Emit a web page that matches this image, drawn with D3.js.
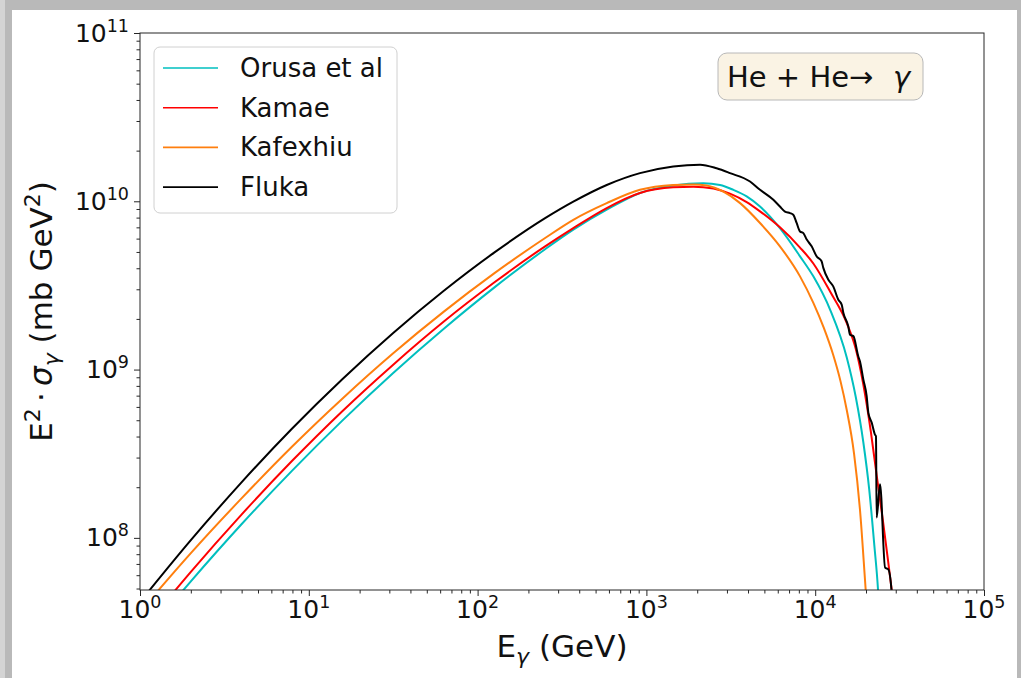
<!DOCTYPE html>
<html>
<head>
<meta charset="utf-8">
<script src="https://cdn.jsdelivr.net/npm/d3@7"></script>
<style>
  body { margin: 0; background: #fff; }
  svg { display: block; font-family: "DejaVu Sans", sans-serif; }
</style>
</head>
<body>
<div id="chart"></div>
<script>
// Series (E in GeV, E^2 * sigma in mb GeV^2)
const seriesNames = ["Orusa et al", "Kamae", "Kafexhiu", "Fluka"];
const seriesColors = ["#00bfbf", "#ff0000", "#ff7f0e", "#000000"];

const orusaE = [1.413, 1.995, 3.981, 7.943, 15.85, 31.62, 63.10, 125.9, 251.2, 369.0, 582.1, 916.2, 1442, 2173, 2729, 3273, 3926, 4710, 6180, 8128, 9750, 12300, 15380, 17380, 19280, 20890, 22390, 23550, 23990];
const orusaY = [3.67e7, 5.50e7, 1.20e8, 2.50e8, 4.99e8, 9.55e8, 1.75e9, 3.08e9, 5.19e9, 6.78e9, 8.91e9, 1.12e10, 1.24e10, 1.28e10, 1.25e10, 1.17e10, 1.07e10, 9.31e9, 6.92e9, 4.71e9, 3.58e9, 2.25e9, 1.18e9, 6.89e8, 3.70e8, 1.94e8, 9.08e7, 4.94e7, 3.55e7];

const kamaeE = [1.259, 1.995, 3.981, 7.943, 15.85, 31.62, 63.10, 125.9, 251.2, 369.0, 582.1, 916.2, 1442, 1897, 2495, 3126, 3926, 4710, 6180, 8128, 9750, 12300, 15380, 17380, 19280, 21380, 23120, 25120, 26920, 28380, 29170];
const kamaeY = [3.61e7, 6.26e7, 1.37e8, 2.86e8, 5.68e8, 1.07e9, 1.93e9, 3.30e9, 5.40e9, 6.93e9, 9.12e9, 1.12e10, 1.21e10, 1.22e10, 1.19e10, 1.11e10, 9.89e9, 8.71e9, 7.00e9, 5.31e9, 4.27e9, 2.89e9, 1.89e9, 1.33e9, 8.15e8, 4.25e8, 2.36e8, 1.29e8, 7.52e7, 4.92e7, 3.98e7];

const kafexhiuE = [1.0, 1.995, 3.981, 7.943, 15.85, 31.62, 63.10, 125.9, 251.2, 369.0, 582.1, 916.2, 1442, 1897, 2275, 2858, 3589, 4710, 6180, 8128, 9750, 11220, 12790, 14130, 15380, 16980, 18410, 19950, 20420];
const kafexhiuY = [3.64e7, 8.09e7, 1.71e8, 3.48e8, 6.74e8, 1.25e9, 2.21e9, 3.74e9, 6.05e9, 7.76e9, 9.75e9, 1.17e10, 1.25e10, 1.26e10, 1.24e10, 1.14e10, 9.75e9, 7.43e9, 5.40e9, 3.58e9, 2.49e9, 1.78e9, 1.22e9, 8.51e8, 5.75e8, 3.18e8, 1.48e8, 4.79e7, 3.47e7];

const flukaE = [1.0, 1.995, 3.981, 7.943, 15.85, 31.62, 63.10, 125.9, 251.2, 369.0, 582.1, 916.2, 1442, 2080, 2606, 3126, 4111, 4710, 5649, 6180, 6622, 7096, 7413, 7762, 8128, 8511, 8913, 9528, 10210, 10910, 11170, 11970, 12790, 13710, 14350, 14690, 15700, 16070, 16830, 17990, 18410, 19280, 20180, 20650, 21630, 22590, 22910, 23120, 24210, 25940, 27100, 28380, 28700];
const flukaY = [4.16e7, 9.66e7, 2.13e8, 4.45e8, 8.79e8, 1.65e9, 2.94e9, 4.97e9, 7.94e9, 9.95e9, 1.25e10, 1.47e10, 1.61e10, 1.65e10, 1.57e10, 1.47e10, 1.31e10, 1.17e10, 1.02e10, 9.31e9, 8.69e9, 8.51e9, 8.32e9, 7.43e9, 6.62e9, 6.47e9, 5.92e9, 5.40e9, 4.70e9, 4.40e9, 4.02e9, 3.42e9, 3.12e9, 2.60e9, 2.43e9, 2.17e9, 1.81e9, 1.61e9, 1.58e9, 1.20e9, 1.12e9, 8.73e8, 6.95e8, 5.53e8, 4.83e8, 4.11e8, 4.02e8, 1.32e8, 2.08e8, 6.65e7, 6.50e7, 4.73e7, 3.98e7];

const xTickExps = [0, 1, 2, 3, 4, 5];
const yTickExps = [8, 9, 10, 11];

const W = 1021, H = 678;
const plot = {left: 140, right: 984, top: 33, bottom: 590};

const svg = d3.select("#chart").append("svg")
  .attr("width", W)
  .attr("height", H);

// window frame
svg.append("rect").attr("width", W).attr("height", H).attr("fill", "#b9b9b9");
svg.append("rect").attr("x", 0).attr("y", 0).attr("width", 5).attr("height", H).attr("fill", "#d4d4d4");
svg.append("rect").attr("x", 12).attr("y", 10).attr("width", 1005).attr("height", H - 10).attr("fill", "#ffffff");

const x = d3.scaleLog().domain([1, 1e5]).range([plot.left, plot.right]);
const y = d3.scaleLog().domain([4.9e7, 1e11]).range([plot.bottom, plot.top]);

svg.append("clipPath").attr("id", "clip")
  .append("rect")
    .attr("x", plot.left).attr("y", plot.top)
    .attr("width", plot.right - plot.left).attr("height", plot.bottom - plot.top);

// curves
const series = [
  {e: orusaE, v: orusaY},
  {e: kamaeE, v: kamaeY},
  {e: kafexhiuE, v: kafexhiuY},
  {e: flukaE, v: flukaY}
];

const line = d3.line()
  .x(d => x(d[0]))
  .y(d => y(d[1]))
  .curve(d3.curveMonotoneX);

const lines = svg.append("g").attr("clip-path", "url(#clip)");
series.forEach((s, i) => {
  lines.append("path")
    .datum(s.e.map((e, j) => [e, s.v[j]]))
    .attr("fill", "none")
    .attr("stroke", seriesColors[i])
    .attr("stroke-width", 2)
    .attr("stroke-linejoin", "round")
    .attr("d", line);
});

// minor tick values
const xMinor = [];
for (let k = 0; k < 5; k++) for (let m = 2; m < 10; m++) xMinor.push(m * Math.pow(10, k));
const yMinor = [];
for (let k = 7; k < 11; k++) for (let m = 2; m < 10; m++) {
  const v = m * Math.pow(10, k);
  if (v >= 4.9e7) yMinor.push(v);
}

const axisColor = "#262626";

function styleAxis(g) {
  g.select(".domain").remove();
  g.selectAll("line").attr("stroke", axisColor).attr("stroke-width", 1);
}

svg.append("g")
  .attr("transform", `translate(0,${plot.bottom})`)
  .call(d3.axisBottom(x).tickValues(xTickExps.map(k => Math.pow(10, k))).tickSize(6).tickFormat(""))
  .call(styleAxis);
svg.append("g")
  .attr("transform", `translate(0,${plot.bottom})`)
  .call(d3.axisBottom(x).tickValues(xMinor).tickSize(3.5).tickFormat(""))
  .call(styleAxis);
svg.append("g")
  .attr("transform", `translate(${plot.left},0)`)
  .call(d3.axisLeft(y).tickValues(yTickExps.map(k => Math.pow(10, k))).tickSize(6).tickFormat(""))
  .call(styleAxis);
svg.append("g")
  .attr("transform", `translate(${plot.left},0)`)
  .call(d3.axisLeft(y).tickValues(yMinor).tickSize(3.5).tickFormat(""))
  .call(styleAxis);

// spines
svg.append("rect")
  .attr("x", plot.left).attr("y", plot.top)
  .attr("width", plot.right - plot.left).attr("height", plot.bottom - plot.top)
  .attr("fill", "none")
  .attr("stroke", axisColor)
  .attr("stroke-width", 1);

// tick labels
xTickExps.forEach(k => {
  const t = svg.append("text")
    .attr("x", x(Math.pow(10, k)))
    .attr("y", 618)
    .attr("text-anchor", "middle")
    .style("font-size", "25px")
    .attr("fill", "#111");
  t.append("tspan").text("10");
  t.append("tspan").attr("dy", -10).style("font-size", "17.5px").text(k);
});

yTickExps.forEach(k => {
  const t = svg.append("text")
    .attr("x", 129)
    .attr("y", y(Math.pow(10, k)) + 8.5)
    .attr("text-anchor", "end")
    .style("font-size", "25px")
    .attr("fill", "#111");
  t.append("tspan").text("10");
  t.append("tspan").attr("dy", -10).style("font-size", "17.5px").text(k);
});

// x label
const xl = svg.append("text")
  .attr("x", (plot.left + plot.right) / 2)
  .attr("y", 657)
  .attr("text-anchor", "middle")
  .style("font-size", "31px")
  .attr("fill", "#111");
xl.append("tspan").text("E");
xl.append("tspan").attr("dy", 7).style("font-size", "22px").style("font-style", "italic").text("γ");
xl.append("tspan").attr("dy", -7).text(" (GeV)");

// y label
const yl = svg.append("text")
  .attr("transform", `translate(52,${(plot.top + plot.bottom) / 2}) rotate(-90)`)
  .attr("text-anchor", "middle")
  .style("font-size", "31px")
  .attr("fill", "#111");
yl.append("tspan").text("E");
yl.append("tspan").attr("dy", -12).style("font-size", "22px").text("2");
yl.append("tspan").attr("dy", 12).text("\u2009·\u2009");
yl.append("tspan").style("font-style", "italic").text("σ");
yl.append("tspan").attr("dy", 7).style("font-size", "22px").style("font-style", "italic").text("γ");
yl.append("tspan").attr("dy", -7).text(" (mb GeV");
yl.append("tspan").attr("dy", -12).style("font-size", "22px").text("2");
yl.append("tspan").attr("dy", 12).text(")");

// legend
const legend = svg.append("g");
legend.append("rect")
  .attr("x", 154).attr("y", 47)
  .attr("width", 243).attr("height", 166)
  .attr("rx", 6)
  .attr("fill", "#fff")
  .attr("fill-opacity", 0.8)
  .attr("stroke", "#d0d0d0")
  .attr("stroke-width", 1);

const items = legend.selectAll(".legend-item")
  .data(seriesNames)
  .enter()
  .append("g")
    .attr("class", "legend-item")
    .attr("transform", (d, i) => `translate(0,${68 + i * 39.7})`);
items.append("line")
  .attr("x1", 163).attr("x2", 218)
  .attr("stroke", (d, i) => seriesColors[i])
  .attr("stroke-width", 1.6);
items.append("text")
  .attr("x", 240)
  .attr("y", 9)
  .style("font-size", "26px")
  .attr("fill", "#111")
  .text(d => d);

// reaction box
svg.append("rect")
  .attr("x", 718).attr("y", 53)
  .attr("width", 205).attr("height", 47)
  .attr("rx", 9)
  .attr("fill", "#faf3e4")
  .attr("stroke", "#b8b8b8")
  .attr("stroke-width", 1);
const rt = svg.append("text")
  .attr("x", 727)
  .attr("y", 87)
  .style("font-size", "29px")
  .attr("fill", "#111");
rt.append("tspan").text("He + He\u2192");
rt.append("tspan").attr("x", 893).style("font-style", "italic").text("γ");
</script>
</body>
</html>
